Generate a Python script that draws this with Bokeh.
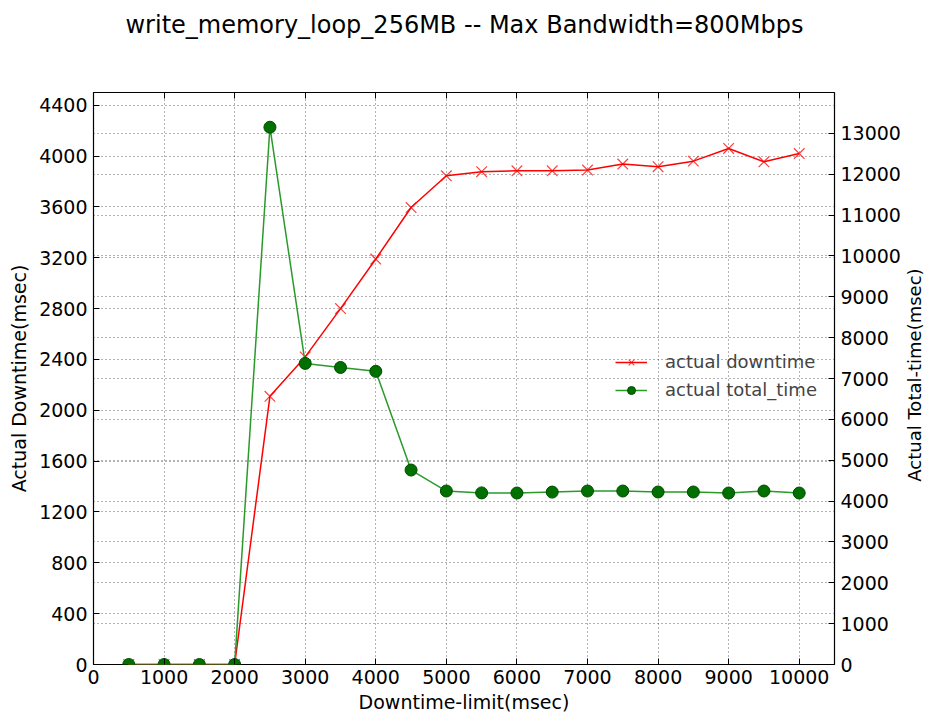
import math
from bokeh.plotting import figure
from bokeh.layouts import row, column
from bokeh.models import (LinearAxis, Range1d, FixedTicker, Grid, Legend, LegendItem,
                          CustomJSTickFormatter)
from bokeh.core.properties import value
from bokeh.embed import file_html
from bokeh.resources import INLINE

# ---- data ----
downtime_limit = [500, 1000, 1500, 2000, 2500, 3000, 3500, 4000, 4500, 5000,
                  5500, 6000, 6500, 7000, 7500, 8000, 8500, 9000, 9500, 10000]
actual_downtime = [0, 0, 0, 0, 2110, 2420, 2800, 3190, 3595, 3845,
                   3877, 3884, 3884, 3890, 3937, 3916, 3960, 4060, 3955, 4020]
actual_total_time = [0, 0, 0, 0, 13150, 7370, 7270, 7175, 4760, 4246,
                     4200, 4197, 4220, 4246, 4246, 4222, 4222, 4197, 4246, 4197]

title_text = "write_memory_loop_256MB -- Max Bandwidth=800Mbps"
x_label = "Downtime-limit(msec)"
left_label = "Actual Downtime(msec)"
right_label = "Actual Total-time(msec)"
legend_labels = ["actual downtime", "actual total_time"]
x_ticks = list(range(0, 10001, 1000))
left_ticks = list(range(0, 4401, 400))
right_ticks = list(range(0, 13001, 1000))

FONT = "DejaVu Sans"
TICK_SIZE = "19px"
LABEL_SIZE = "19px"

TOTAL_W, TOTAL_H = 925, 715
TOP_H = 50                      # strip holding the chart title
MAIN_W = 903                    # main chart; the rest is a strip for the right-axis title
SIDE_W = TOTAL_W - MAIN_W
MAIN_H = TOTAL_H - TOP_H
FRAME_L, FRAME_R, FRAME_T, FRAME_B = 93, 835, 92, 665   # frame edges in window pixels

def strip(width, height):
    f = figure(width=width, height=height, output_backend="svg", toolbar_location=None,
               title=None, x_range=Range1d(0, width), y_range=Range1d(0, height),
               min_border=0, outline_line_color=None, background_fill_color="white",
               border_fill_color="white")
    f.axis.visible = False
    f.grid.visible = False
    return f

# ---- title strip ----
top = strip(TOTAL_W, TOP_H)
top.text(x=[(FRAME_L + FRAME_R) / 2], y=[TOP_H - 24], text=[title_text],
         text_align="center", text_baseline="middle", text_font=value(FONT),
         text_font_size="24px", text_color="black")

# ---- main chart ----
p = figure(width=MAIN_W, height=MAIN_H, output_backend="svg", toolbar_location=None,
           title=None, x_range=Range1d(0, 10500), y_range=Range1d(0, 4500),
           min_border_left=FRAME_L, min_border_right=MAIN_W - FRAME_R,
           min_border_top=FRAME_T - TOP_H, min_border_bottom=TOTAL_H - FRAME_B)
p.extra_y_ranges = {"total": Range1d(0, 14000)}

p.background_fill_color = "white"
p.border_fill_color = "white"
p.outline_line_color = "black"
p.outline_line_width = 1.2
p.outline_line_alpha = 1

def style_axis(ax):
    ax.major_tick_in = 6
    ax.major_tick_out = 0
    ax.minor_tick_in = 0
    ax.minor_tick_out = 0
    ax.axis_line_color = None
    ax.major_tick_line_color = "black"
    ax.major_label_text_font = FONT
    ax.major_label_text_font_size = TICK_SIZE
    ax.major_label_text_color = "black"
    ax.axis_label_text_font = FONT
    ax.axis_label_text_font_size = LABEL_SIZE
    ax.axis_label_text_font_style = "normal"
    ax.axis_label_text_color = "black"

xa = p.xaxis[0]
xa.ticker = FixedTicker(ticks=x_ticks)
xa.axis_label = x_label
style_axis(xa)
xa.axis_label_standoff = 4
xa.major_label_standoff = 5

ya = p.yaxis[0]
ya.ticker = FixedTicker(ticks=left_ticks)
ya.axis_label = left_label
style_axis(ya)
ya.axis_label_standoff = 6
ya.major_label_standoff = 6

ra = LinearAxis(y_range_name="total", ticker=FixedTicker(ticks=right_ticks))
style_axis(ra)
ra.major_label_standoff = 6
p.add_layout(ra, "right")

ta = LinearAxis(ticker=FixedTicker(ticks=x_ticks),
                formatter=CustomJSTickFormatter(code="return ''"))
style_axis(ta)
ta.major_label_standoff = 0
p.add_layout(ta, "above")

# grids
for g in p.grid:
    g.grid_line_color = "black"
    g.grid_line_alpha = 0.6
    g.grid_line_dash = "1 3"
    g.grid_line_width = 1
p.xgrid[0].ticker = FixedTicker(ticks=x_ticks)
p.ygrid[0].ticker = FixedTicker(ticks=left_ticks)
rg = Grid(dimension=1, ticker=FixedTicker(ticks=right_ticks), y_range_name="total",
          grid_line_color="black", grid_line_alpha=0.6, grid_line_dash="1 3", grid_line_width=1)
p.add_layout(rg)

# series
r1 = p.line(downtime_limit, actual_downtime, line_color="red", line_width=1.5)
r1m = p.scatter(downtime_limit, actual_downtime, marker="x", size=15, line_color="red",
                line_width=1.2, line_alpha=0.75)
r2 = p.line(downtime_limit, actual_total_time, y_range_name="total", line_color="#2a9a2a",
            line_width=1.5)
r2m = p.scatter(downtime_limit, actual_total_time, y_range_name="total", marker="circle",
                size=12, fill_color="#007000", line_color="#004d00", line_width=1)

legend = Legend(items=[LegendItem(label=legend_labels[0], renderers=[r1, r1m]),
                       LegendItem(label=legend_labels[1], renderers=[r2, r2m])],
                location=(522, 264), background_fill_alpha=0, border_line_color=None,
                label_text_font=FONT, label_text_font_size="18px", glyph_width=32,
                glyph_height=20, spacing=7, padding=4, label_standoff=18, margin=0)
p.add_layout(legend, "center")

# ---- right strip: right-axis title reading bottom-to-top ----
side = strip(SIDE_W, MAIN_H)
frame_mid_from_top = (FRAME_T + FRAME_B) / 2 - TOP_H
side.text(x=[SIDE_W / 2], y=[MAIN_H - frame_mid_from_top], text=[right_label],
          angle=math.pi / 2, text_align="center", text_baseline="middle",
          text_font=value(FONT), text_font_size="18px", text_color="black")

layout = column(top, row(p, side, spacing=0), spacing=0)
open("out.html", "w").write(file_html(layout, INLINE))
